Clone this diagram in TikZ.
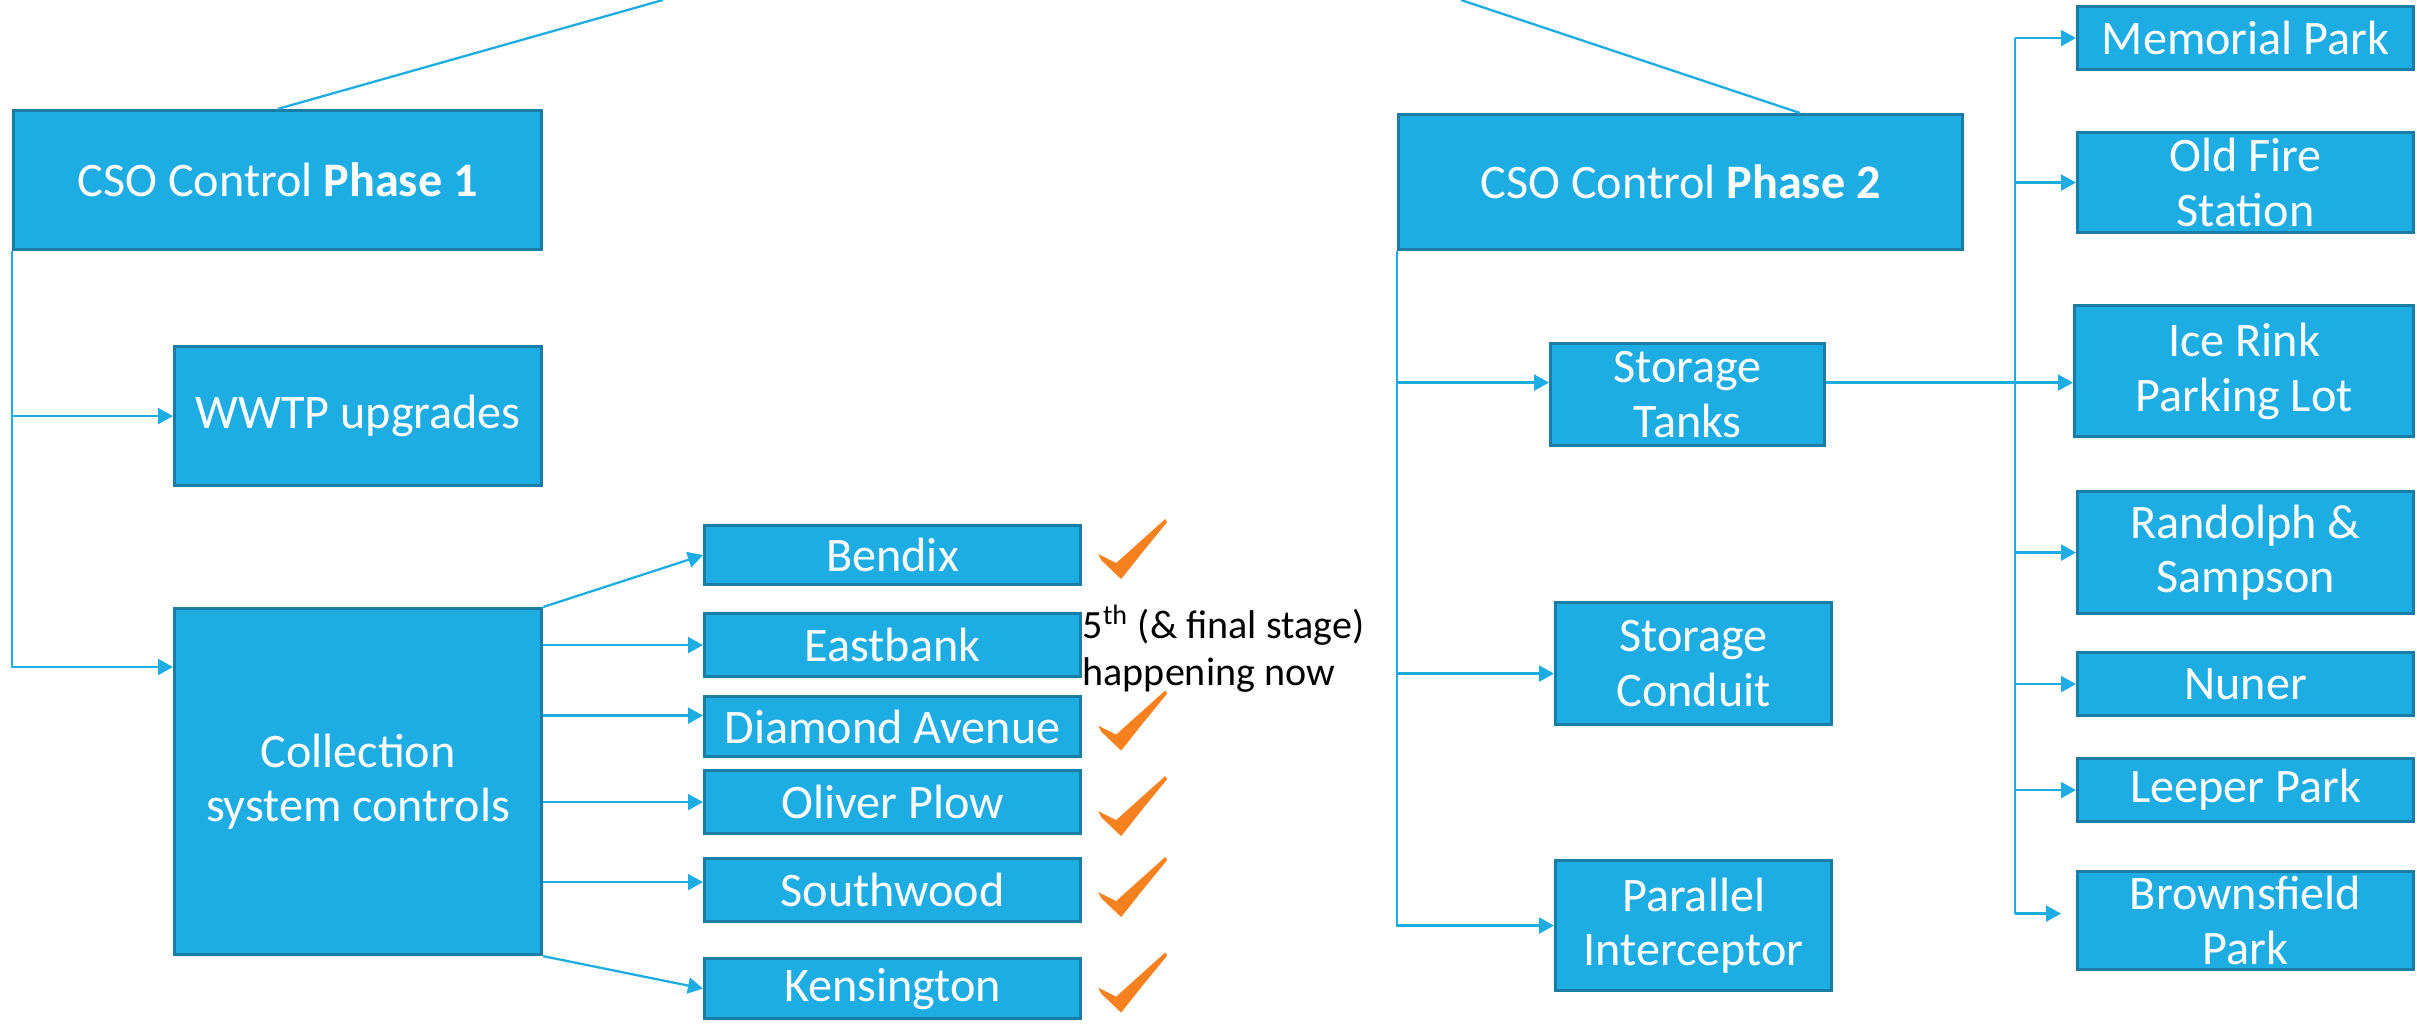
\documentclass[tikz,border=0pt]{standalone}
\usepackage{fontspec}
\setmainfont{Carlito}
\usetikzlibrary{calc,arrows.meta,positioning}
\definecolor{boxfill}{HTML}{1EADE3}
\definecolor{boxedge}{HTML}{1A7DA5}
\definecolor{linkblue}{HTML}{1EADE3}
\definecolor{tickorange}{HTML}{F7811E}
\newcommand{\boxfont}{\fontsize{13.7}{15.6}\selectfont}
\newcommand{\notefont}{\fontsize{11.4}{13.6}\selectfont}
\tikzset{
  box/.style={rectangle, draw=boxedge, fill=boxfill, line width=0.9pt, text=white,
    font=\boxfont, align=center, inner sep=1pt, anchor=north west},
  plain/.style={draw=linkblue, line width=0.65pt},
  link/.style={plain, -{Triangle[length=1.5mm,width=1.6mm]}},
  donetick/.pic={\fill[tickorange] (0,35) -- (18,44) -- (67,0) -- (69,3) -- (46,31) -- (23,60) -- (3,41) -- cycle;}
}
\begin{document}
\begin{tikzpicture}[x=0.1mm, y=-0.1mm]
  \fill[white] (0,0) rectangle (2417,1024);
  \useasboundingbox (0,0) rectangle (2417,1024);

  % phase 1
  \node[box, minimum width=52.8mm, minimum height=13.9mm] (phaseone) at (12,109) {CSO Control \textbf{Phase 1}};
  \node[box, minimum width=36.7mm, minimum height=13.9mm] (wwtp) at (173,345) {WWTP upgrades};
  \node[box, minimum width=36.7mm, minimum height=34.6mm] (collection) at (173,607) {Collection\\system controls};
  \node[box, minimum width=37.6mm, minimum height=5.9mm] (bendix) at (703,524) {Bendix};
  \node[box, minimum width=37.6mm, minimum height=6.3mm] (eastbank) at (703,612) {Eastbank};
  \node[box, minimum width=37.6mm, minimum height=6.0mm] (diamond) at (703,695) {Diamond Avenue};
  \node[box, minimum width=37.6mm, minimum height=6.3mm] (oliver) at (703,769) {Oliver Plow};
  \node[box, minimum width=37.6mm, minimum height=6.3mm] (southwood) at (703,857) {Southwood};
  \node[box, minimum width=37.6mm, minimum height=6.0mm] (kensington) at (703,957) {Kensington};
  \node[anchor=north west, inner sep=0pt, align=left, font=\notefont] (note) at (1082,604) {5\textsuperscript{th} (\& final stage)\\happening now};

  % phase 2
  \node[box, minimum width=56.4mm, minimum height=13.5mm] (phasetwo) at (1397,113) {CSO Control \textbf{Phase 2}};
  \node[box, minimum width=27.4mm, minimum height=10.2mm] (tanks) at (1549,342) {Storage\\Tanks};
  \node[box, minimum width=27.6mm, minimum height=12.2mm] (conduit) at (1554,601) {Storage\\Conduit};
  \node[box, minimum width=27.6mm, minimum height=13.0mm] (interceptor) at (1554,859) {Parallel\\Interceptor};
  \node[box, minimum width=33.6mm, minimum height=6.3mm] (memorial) at (2076,5) {Memorial Park};
  \node[box, minimum width=33.6mm, minimum height=10.0mm] (oldfire) at (2076,131) {Old Fire\\Station};
  \node[box, minimum width=33.9mm, minimum height=13.1mm] (icerink) at (2073,304) {Ice Rink\\Parking Lot};
  \node[box, minimum width=33.6mm, minimum height=12.2mm] (randolph) at (2076,490) {Randolph \&\\Sampson};
  \node[box, minimum width=33.6mm, minimum height=6.3mm] (nuner) at (2076,651) {Nuner};
  \node[box, minimum width=33.6mm, minimum height=6.3mm] (leeper) at (2076,757) {Leeper Park};
  \node[box, minimum width=33.6mm, minimum height=9.8mm] (brownsfield) at (2076,870) {Brownsfield\\Park};

  % lines to the top
  \coordinate (topone) at (663,0);
  \coordinate (toptwo) at (1461,0);
  \draw[plain] (phaseone.north) -- (topone);
  \draw[plain] (phasetwo.north -| 1800,0) -- (toptwo);

  % phase 1 links
  \draw[link] (phaseone.south west) |- (wwtp.west);
  \draw[link] (phaseone.south west) |- ([yshift=-6mm]collection.north west);
  \draw[link] (collection.north east) -- (bendix.west);
  \draw[link] (eastbank.west -| collection.east) -- (eastbank.west);
  \draw[link] ([yshift=1.1mm]diamond.west -| collection.east) -- ([yshift=1.1mm]diamond.west);
  \draw[link] (oliver.west -| collection.east) -- (oliver.west);
  \draw[link] ([yshift=0.8mm]southwood.west -| collection.east) -- ([yshift=0.8mm]southwood.west);
  \draw[link] (collection.south east) -- (kensington.west);
  \foreach \b/\dy in {bendix/-36, diamond/-36, oliver/-26, southwood/-33, kensington/-36}
    \pic at ($(\b.east)+(16,\dy)$) {donetick};

  % phase 2 links
  \draw[link] (phasetwo.south west) |- ([yshift=1.2mm]tanks.west);
  \draw[link] (phasetwo.south west) |- ([yshift=-1mm]conduit.west);
  \draw[link] (phasetwo.south west) |- (interceptor.west);
  \coordinate (tankout) at ([yshift=1.2mm]tanks.east);
  \draw[link] (tankout) -- (tankout -| icerink.west);
  \coordinate (rtrunk) at (2015,0);
  \draw[plain] (memorial.west -| rtrunk) -- ([yshift=0.7mm]brownsfield.west -| rtrunk);
  \foreach \n in {memorial, oldfire, randolph, nuner, leeper}
    \draw[link] (\n.west -| rtrunk) -- (\n.west);
  \draw[link] ([yshift=0.7mm]brownsfield.west -| rtrunk) -- ([xshift=-1.5mm, yshift=0.7mm]brownsfield.west);
\end{tikzpicture}
\end{document}
